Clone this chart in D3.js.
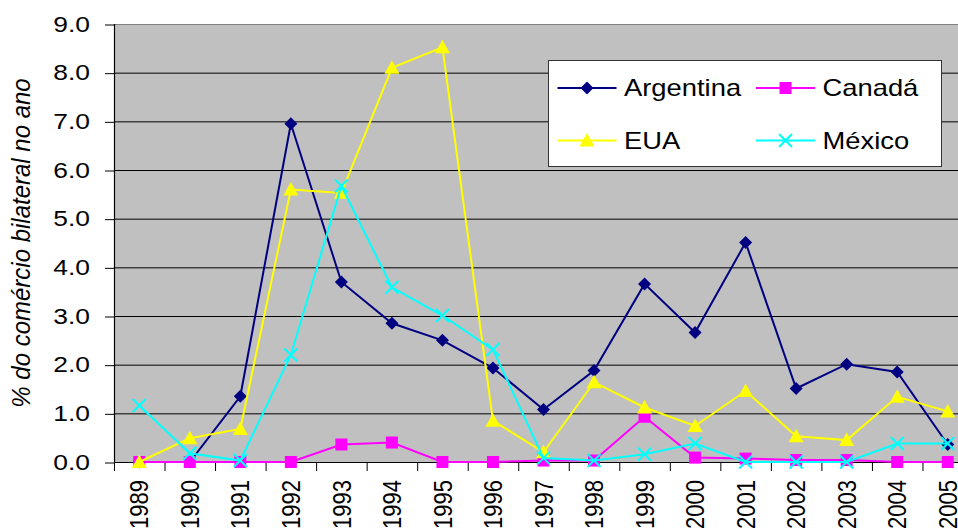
<!DOCTYPE html>
<html><head><meta charset="utf-8">
<script src="https://cdn.jsdelivr.net/npm/d3@7"></script>
<style>body{margin:0;background:#fff}svg{display:block;font-family:Arial,"Liberation Sans",sans-serif}</style>
</head><body><svg id="c" width="958" height="531"></svg>
<script>
const years = ["1989","1990","1991","1992","1993","1994","1995","1996","1997","1998","1999","2000","2001","2002","2003","2004","2005"];
const argentina = [0,0,1.35,6.95,3.7,2.85,2.5,1.93,1.08,1.88,3.66,2.66,4.51,1.51,2.01,1.85,0.36];
const canada    = [0,0,0,0,0.36,0.4,0,0,0.03,0.03,0.93,0.09,0.07,0.04,0.04,0,0];
const eua       = [0,0.49,0.68,5.6,5.53,8.1,8.52,0.85,0.2,1.64,1.12,0.74,1.46,0.53,0.45,1.34,1.04];
const mexico    = [1.16,0.18,0.03,2.2,5.67,3.59,3.01,2.31,0.08,0.03,0.16,0.38,0,0,0,0.38,0.38];
const yTicks = [0,1,2,3,4,5,6,7,8,9];
const yTitle = "% do comércio bilateral no ano";

const series = [
  {name:"Argentina", values:argentina, color:"#000080", marker:"diamond"},
  {name:"Canadá", values:canada, color:"#FF00FF", marker:"square"},
  {name:"EUA", values:eua, color:"#FFFF00", marker:"triangle"},
  {name:"México", values:mexico, color:"#00FFFF", marker:"x"}
];

const svg = d3.select("#c");
const L = 114, T = 24, W = 859, H = 438;
const SX = 1.2; // horizontal text stretch seen in the reference
const x = d3.scaleBand().domain(years).range([L, L+W]);
const y = d3.scaleLinear().domain([0,9]).range([T+H, T]);

// plot background
svg.append("rect").attr("x",L).attr("y",T).attr("width",W).attr("height",H).attr("fill","#C0C0C0");
// gridlines
svg.append("g").selectAll("line").data(yTicks.filter(d=>d>0)).join("line")
  .attr("x1",L).attr("x2",L+W).attr("y1",d=>y(d)+0.5).attr("y2",d=>y(d)+0.5)
  .attr("stroke", d=>d===9 ? "#808080" : "#000").attr("stroke-width",1);

// y axis
const ya = svg.append("g").attr("transform",`translate(${L},0)`)
  .call(d3.axisLeft(y).tickValues(yTicks).tickFormat(d3.format(".1f")).tickSize(9).tickPadding(15));
ya.select(".domain").remove();
ya.selectAll("line").attr("stroke","#000").attr("transform","translate(0,0.5)");
ya.selectAll("text").attr("x",0).attr("transform",`translate(-24,0) scale(${SX},1)`)
  .attr("font-size",22).attr("fill","#000").attr("font-family","Arial, 'Liberation Sans', sans-serif");
svg.append("line").attr("x1",L+0.5).attr("x2",L+0.5).attr("y1",T).attr("y2",T+H).attr("stroke","#000").attr("stroke-width",1.2);
// x axis line
svg.append("line").attr("x1",L).attr("x2",L+W).attr("y1",T+H+0.5).attr("y2",T+H+0.5).attr("stroke","#000").attr("stroke-width",1.2);
// x ticks at band boundaries
svg.append("g").selectAll("line").data(years).join("line")
  .attr("x1",d=>x(d)+0.5).attr("x2",d=>x(d)+0.5).attr("y1",T+H).attr("y2",T+H+9).attr("stroke","#000");
// x labels rotated
svg.append("g").selectAll("text").data(years).join("text")
  .attr("transform",d=>`translate(${x(d)+x.bandwidth()/2},${T+H+18}) scale(1.17,1) rotate(-90)`)
  .attr("text-anchor","end").attr("dominant-baseline","central")
  .attr("font-size",22).attr("fill","#000").text(d=>d);

// y title
svg.append("text").attr("transform",`translate(21,${T+H/2}) scale(1.08,1) rotate(-90)`)
  .attr("text-anchor","middle").attr("dominant-baseline","central")
  .attr("font-size",24).attr("font-style","italic").attr("fill","#000").text(yTitle);

function marker(g, type, color, cx, cy){
  if(type==="diamond"){
    g.append("path").attr("d",`M${cx},${cy-6.5}L${cx+6.5},${cy}L${cx},${cy+6.5}L${cx-6.5},${cy}Z`).attr("fill",color);
  } else if(type==="square"){
    g.append("rect").attr("x",cx-6).attr("y",cy-6).attr("width",12).attr("height",12).attr("fill",color);
  } else if(type==="triangle"){
    g.append("path").attr("d",`M${cx},${cy-7.5}L${cx+7.5},${cy+6}L${cx-7.5},${cy+6}Z`).attr("fill",color);
  } else {
    g.append("path").attr("d",`M${cx-6.5},${cy-6.5}L${cx+6.5},${cy+6.5}M${cx-6.5},${cy+6.5}L${cx+6.5},${cy-6.5}`)
      .attr("stroke",color).attr("stroke-width",2).attr("fill","none");
  }
}

const line = d3.line().x((d,i)=>x(years[i])+x.bandwidth()/2).y(d=>y(d));
series.forEach(s=>{
  const g = svg.append("g");
  g.append("path").attr("d",line(s.values)).attr("fill","none").attr("stroke",s.color).attr("stroke-width",2);
  s.values.forEach((v,i)=>marker(g, s.marker, s.color, x(years[i])+x.bandwidth()/2, y(v)));
});

// legend
const lg = svg.append("g");
lg.append("rect").attr("x",548.5).attr("y",60.5).attr("width",393).attr("height",106).attr("fill","#fff").attr("stroke","#333").attr("stroke-width",1);
const pos = [[557.5,88],[756,88],[557.5,140.5],[756,140.5]];
series.forEach((s,i)=>{
  const [lx,ly] = pos[i];
  lg.append("line").attr("x1",lx).attr("x2",lx+59).attr("y1",ly).attr("y2",ly).attr("stroke",s.color).attr("stroke-width",2);
  marker(lg, s.marker, s.color, lx+29.5, ly);
  lg.append("text").attr("transform",`translate(${lx+66.5},${ly}) scale(1.19,1)`).attr("dominant-baseline","central")
    .attr("font-size",23).attr("fill","#000").text(s.name);
});
</script></body></html>
